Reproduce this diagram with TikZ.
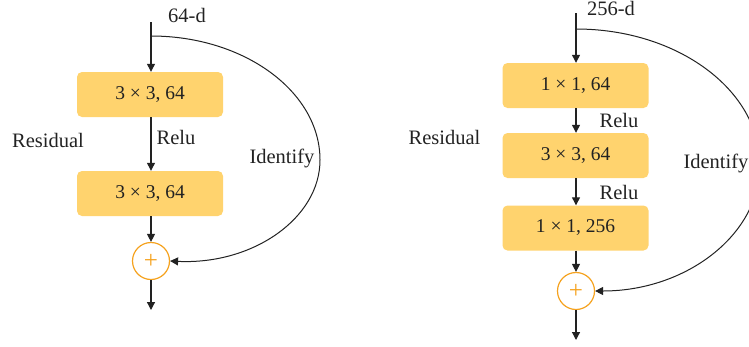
\documentclass[tikz,border=0pt]{standalone}
\usepackage{fontspec}
\setmainfont{Liberation Serif}
\usetikzlibrary{arrows.meta}
\definecolor{boxfill}{HTML}{FFD36E}
\definecolor{sumring}{HTML}{F5A21E}
\definecolor{ink}{HTML}{222222}
\tikzset{
  layer/.style={fill=boxfill, draw=none, rounded corners=5pt,
    minimum width=146pt, minimum height=45pt, inner sep=0pt,
    font=\fontsize{19.5}{22}\selectfont, text=ink},
  sum/.style={circle, draw=sumring, line width=1.2pt, minimum size=37pt,
    inner sep=0pt, text=sumring, font=\fontsize{25}{28}\selectfont},
  lbl/.style={font=\fontsize{20.5}{24}\selectfont, text=ink, inner sep=0pt},
  flow/.style={draw=ink, line width=1.2pt, -{Triangle[length=8pt,width=8pt]}},
  skip/.style={draw=ink, line width=1pt, -{Triangle[length=8pt,width=8pt]}}
}
\begin{document}
\begin{tikzpicture}[x=1pt,y=-1pt]
\clip (0,0) rectangle (749,346);
\useasboundingbox (0,0) rectangle (749,346);

% ---- basic block ----
\coordinate (Lin) at (151,22);
\coordinate (Lfork) at (151,36);
\node[layer] (L1) at (150,94.5) {3 × 3, 64};
\node[layer] (L2) at (150,193.5) {3 × 3, 64};
\node[sum] (Ls) at (151,261) {+};
\coordinate (Lout) at (151,310);
\node[lbl] (Ldim) at (187,15) {64-d};
\node[lbl] (Lrelu) at (176,137) {Relu};
\node[lbl] (Lres) at (48,140) {Residual};
\node[lbl] (Lid) at (282,158) {Identify};

\draw[flow] (Lin) -- (L1.north -| Lin);
\draw[flow] (L1.south -| Lin) -- (L2.north -| Lin);
\draw[flow] (L2.south -| Lin) -- (Ls.north);
\draw[flow] (Ls.south) -- (Lout);
\draw[skip] (Lfork) .. controls (244,36) and (320,91.5) .. (320,160)
  .. controls (320,218) and (253,265) .. (Ls.east);

% ---- bottleneck block ----
\coordinate (Rin) at (576,13);
\coordinate (Rfork) at (576,29);
\node[layer] (R1) at (575.5,85.5) {1 × 1, 64};
\node[layer] (R2) at (575.5,155.5) {3 × 3, 64};
\node[layer] (R3) at (575.5,228) {1 × 1, 256};
\node[sum] (Rs) at (576,291) {+};
\coordinate (Rout) at (576,340);
\node[lbl] (Rdim) at (611,8) {256-d};
\node[lbl] (Rrelu1) at (619,120) {Relu};
\node[lbl] (Rrelu2) at (619,192) {Relu};
\node[lbl] (Rres) at (444.5,137) {Residual};
\node[lbl] (Rid) at (716,163) {Identify};

\draw[flow] (Rin) -- (R1.north -| Rin);
\draw[flow] (R1.south -| Rin) -- (R2.north -| Rin);
\draw[flow] (R2.south -| Rin) -- (R3.north -| Rin);
\draw[flow] (R3.south -| Rin) -- (Rs.north);
\draw[flow] (Rs.south) -- (Rout);
\draw[skip] (Rfork) .. controls (677.5,29) and (760,90) .. (760,165)
  .. controls (760,234.5) and (686.5,291) .. (Rs.east);
\end{tikzpicture}
\end{document}
